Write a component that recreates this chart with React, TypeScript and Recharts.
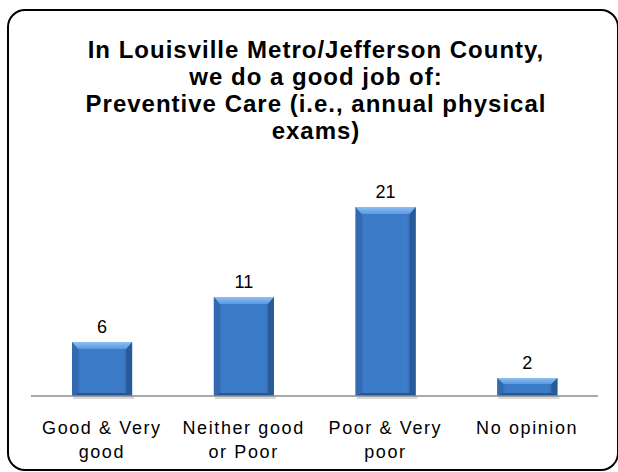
import { Bar, BarChart, LabelList, XAxis, YAxis } from 'recharts';

const categories = ['Good & Very\ngood', 'Neither good\nor Poor', 'Poor & Very\npoor', 'No opinion'];
const counts = [6, 11, 21, 2];
const titleLines = [
  'In Louisville Metro/Jefferson County,',
  'we do a good job of:',
  'Preventive Care (i.e., annual physical',
  'exams)',
];

const data = categories.map((name, i) => ({ name, value: counts[i] }));

const FONT = '"Liberation Sans", Arial, sans-serif';

function BevelBar(props: any) {
  const { x, y, width: w, height: h, index } = props;
  if (!h || h <= 0) return null;
  const s = Math.min(6, w / 6);
  const t = Math.min(7, h / 3);
  const b = Math.min(3, h / 6);
  const body = `body-${index}`;
  const top = `top-${index}`;
  return (
    <g>
      <defs>
        <linearGradient id={body} x1="0" y1="0" x2="1" y2="0">
          <stop offset="0" stopColor="#2d64a8" />
          <stop offset="0.15" stopColor="#3b7bc8" />
          <stop offset="0.85" stopColor="#3b7bc8" />
          <stop offset="1" stopColor="#2a5c9c" />
        </linearGradient>
        <linearGradient id={top} x1="0" y1="0" x2="0" y2="1">
          <stop offset="0" stopColor="#8cc0f3" />
          <stop offset="1" stopColor="#5a99de" />
        </linearGradient>
      </defs>
      <rect x={x + 1} y={y + h} width={w + 1} height={3} fill="#000" opacity={0.15} />
      <rect x={x} y={y} width={w} height={h} fill={`url(#${body})`} />
      <polygon points={`${x},${y} ${x + s},${y + t} ${x + s},${y + h - b} ${x},${y + h}`} fill="#3269b0" />
      <polygon points={`${x + w},${y} ${x + w - s},${y + t} ${x + w - s},${y + h - b} ${x + w},${y + h}`} fill="#295a98" />
      <polygon points={`${x},${y + h} ${x + s},${y + h - b} ${x + w - s},${y + h - b} ${x + w},${y + h}`} fill="#275690" />
      <polygon points={`${x},${y} ${x + w},${y} ${x + w - s},${y + t} ${x + s},${y + t}`} fill={`url(#${top})`} />
    </g>
  );
}

function CategoryTick({ x, y, payload }: any) {
  const lines = String(payload.value).split('\n');
  return (
    <text x={x} y={y} textAnchor="middle" fill="#000" fontSize={18} fontFamily={FONT} letterSpacing={1.6}>
      {lines.map((line, i) => (
        <tspan key={i} x={x} y={y + 38 + i * 24}>
          {line}
        </tspan>
      ))}
    </text>
  );
}

export default function App() {
  return (
    <div style={{ position: 'absolute', left: 0, top: 0, width: 618, height: 472, background: '#fff', overflow: 'hidden' }}>
      <div
        style={{
          position: 'absolute',
          left: 7,
          top: 9,
          width: 612,
          height: 462,
          boxSizing: 'border-box',
          border: '2px solid #000',
          borderRadius: 18,
        }}
      />
      <div
        style={{
          position: 'absolute',
          left: 0,
          top: 36,
          width: 632,
          textAlign: 'center',
          fontFamily: FONT,
          fontWeight: 'bold',
          fontSize: 24,
          lineHeight: '27px',
          letterSpacing: 1,
          color: '#000',
        }}
      >
        {titleLines.map((line) => (
          <div key={line}>{line}</div>
        ))}
      </div>
      <div style={{ position: 'absolute', left: 0, top: 0 }}>
        <BarChart width={618} height={472} data={data} margin={{ top: 171, right: 20, bottom: 0, left: 31 }} barCategoryGap="29%">
          <XAxis
            dataKey="name"
            height={76}
            tickLine={false}
            tickSize={0}
            tickMargin={0}
            axisLine={{ stroke: '#8c8c8c', strokeWidth: 1.5 }}
            tick={<CategoryTick />}
            interval={0}
          />
          <YAxis hide domain={[0, 25]} />
          <Bar dataKey="value" shape={<BevelBar />} isAnimationActive={false}>
            <LabelList dataKey="value" position="top" offset={9} fill="#000" fontSize={18} fontFamily={FONT} />
          </Bar>
        </BarChart>
      </div>
    </div>
  );
}
